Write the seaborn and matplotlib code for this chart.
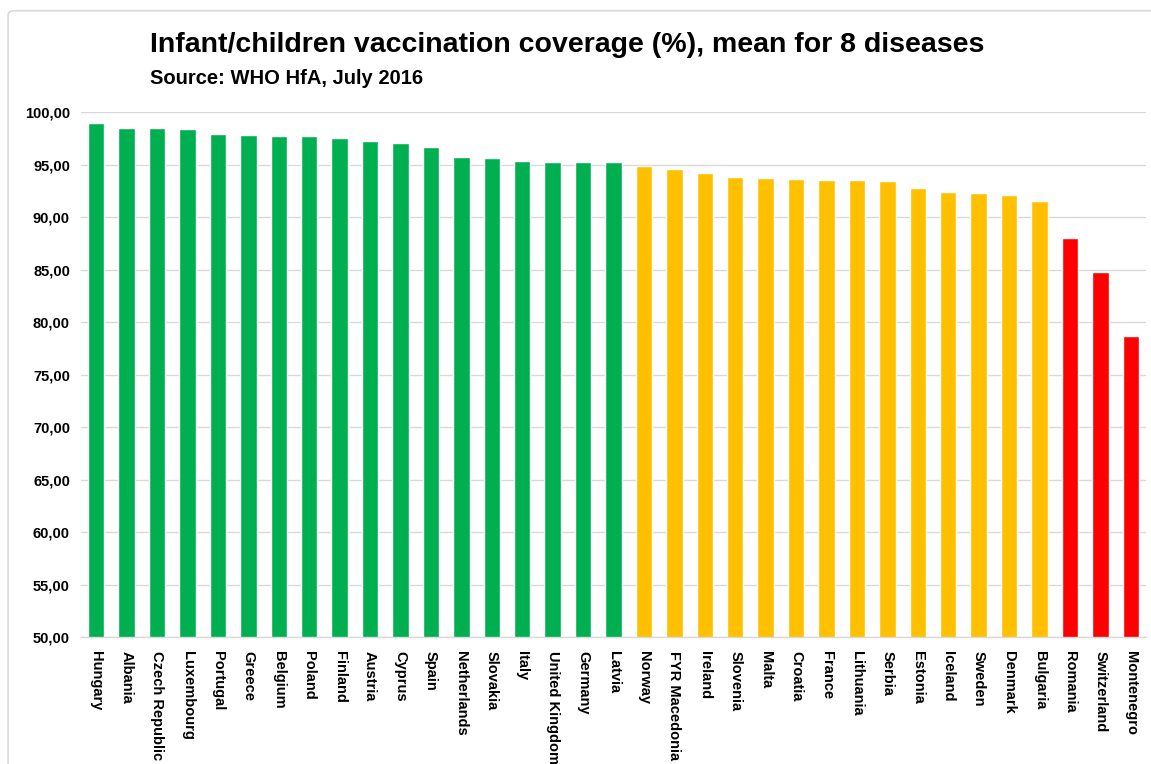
import matplotlib
matplotlib.use('Agg')
import matplotlib.pyplot as plt
import matplotlib.patches as mpatches
import seaborn as sns
import pandas as pd

# data
countries = ['Hungary', 'Albania', 'Czech Republic', 'Luxembourg', 'Portugal', 'Greece',
             'Belgium', 'Poland', 'Finland', 'Austria', 'Cyprus', 'Spain', 'Netherlands',
             'Slovakia', 'Italy', 'United Kingdom', 'Germany', 'Latvia', 'Norway',
             'FYR Macedonia', 'Ireland', 'Slovenia', 'Malta', 'Croatia', 'France',
             'Lithuania', 'Serbia', 'Estonia', 'Iceland', 'Sweden', 'Denmark', 'Bulgaria',
             'Romania', 'Switzerland', 'Montenegro']
coverage = [98.92, 98.45, 98.45, 98.35, 97.93, 97.83, 97.75, 97.75, 97.52, 97.23, 97.04,
            96.63, 95.70, 95.61, 95.32, 95.22, 95.22, 95.22, 94.85, 94.62, 94.22, 93.84,
            93.75, 93.66, 93.56, 93.56, 93.44, 92.74, 92.42, 92.33, 92.14, 91.54,
            87.98, 84.81, 78.71]
tiers = ['high'] * 18 + ['mid'] * 14 + ['low'] * 3
tier_colors = {'high': '#00B050', 'mid': '#FFC000', 'low': '#FF0000'}

df = pd.DataFrame({'Country': countries, 'Coverage': coverage, 'Tier': tiers})

sns.set_style('white')
plt.rcParams['font.family'] = ['Liberation Sans', 'DejaVu Sans']
plt.rcParams['text.color'] = 'black'
plt.rcParams['xtick.color'] = 'black'
plt.rcParams['ytick.color'] = 'black'

fig = plt.figure(figsize=(11.51, 7.64), dpi=100)
ax = fig.add_axes([0.0704, 0.166, 0.9253, 0.6874])

sns.barplot(data=df, x='Country', y='Coverage', hue='Tier', palette=tier_colors,
            dodge=False, width=0.54, legend=False, ax=ax, saturation=1)

ax.set_ylim(50, 100)
ax.set_xlim(-0.5, len(countries) - 0.5)
ax.set_yticks(range(50, 101, 5))
ax.set_yticklabels([f'{v},00' for v in range(50, 101, 5)], fontsize=10.5, fontweight='bold')
ax.set_xticks(range(len(countries)))
ax.set_xticklabels(countries, rotation=270, fontsize=10.5, fontweight='bold', va='top')
ax.tick_params(axis='both', length=0, pad=8)
ax.tick_params(axis='x', pad=10)
ax.set_xlabel('')
ax.set_ylabel('')
ax.yaxis.grid(True, color='#D9D9D9', linewidth=1)
ax.set_axisbelow(True)
for s in ['top', 'right', 'left']:
    ax.spines[s].set_visible(False)
ax.spines['bottom'].set_color('#D9D9D9')
ax.spines['bottom'].set_linewidth(1)

fig.text(0.130, 0.941, 'Infant/children vaccination coverage (%), mean for 8 diseases',
         fontsize=20.5, fontweight='bold', va='center', ha='left', color='black')
fig.text(0.130, 0.897, 'Source: WHO HfA, July 2016',
         fontsize=14.5, fontweight='bold', va='center', ha='left', color='black')

# thin chart-area border
border = mpatches.FancyBboxPatch((0.007, -0.02), 1.02, 1.006,
                                 boxstyle='round,pad=0,rounding_size=0.006',
                                 transform=fig.transFigure, fill=False,
                                 edgecolor='#D9D9D9', linewidth=1.2)
fig.patches.append(border)

fig.savefig('out.png', dpi=100)
